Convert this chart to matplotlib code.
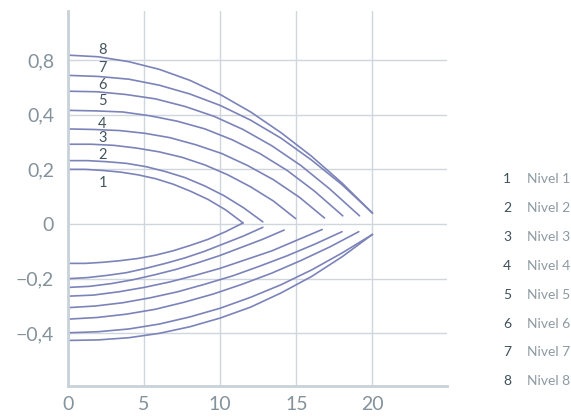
import matplotlib
matplotlib.use("Agg")
import matplotlib.pyplot as plt

plt.rcParams['font.family'] = ['Lato', 'DejaVu Sans']

# upper branches (axis units: one grid step per unit)
up_x = [
    [0, 1.15, 2.3, 3.45, 4.6, 5.75, 6.9, 8.05, 9.2, 10.35, 11.5],
    [0, 1.28, 2.56, 3.84, 5.12, 6.4, 7.68, 8.96, 10.24, 11.52, 12.8],
    [0, 1.5, 3.0, 4.5, 6.0, 7.5, 9.0, 10.5, 12.0, 13.5, 14.95],
    [0, 1.7, 3.4, 5.05, 6.7, 8.4, 10.1, 11.8, 13.5, 15.2, 16.85],
    [0, 1.8, 3.6, 5.4, 7.2, 9.0, 10.8, 12.6, 14.4, 16.2, 18.05],
    [0, 1.9, 3.8, 5.75, 7.7, 9.6, 11.5, 13.4, 15.3, 17.2, 19.15],
    [0, 2, 4, 6, 8, 10, 12, 14, 16, 18, 20],
    [0, 2, 4, 6, 8, 10, 12, 14, 16, 18, 20],
]
up_y = [
    [1.00, 1.00, 0.98, 0.95, 0.90, 0.83, 0.73, 0.60, 0.45, 0.26, 0.02],
    [1.16, 1.16, 1.14, 1.11, 1.05, 0.96, 0.85, 0.70, 0.52, 0.30, 0.04],
    [1.46, 1.46, 1.44, 1.39, 1.32, 1.22, 1.08, 0.90, 0.68, 0.42, 0.10],
    [1.74, 1.73, 1.71, 1.66, 1.58, 1.45, 1.29, 1.07, 0.81, 0.49, 0.11],
    [2.08, 2.07, 2.05, 1.98, 1.88, 1.74, 1.54, 1.29, 0.98, 0.60, 0.15],
    [2.43, 2.42, 2.37, 2.29, 2.15, 1.97, 1.73, 1.43, 1.07, 0.64, 0.15],
    [2.72, 2.70, 2.65, 2.54, 2.38, 2.17, 1.90, 1.57, 1.17, 0.72, 0.20],
    [3.09, 3.06, 2.97, 2.83, 2.63, 2.37, 2.05, 1.67, 1.24, 0.75, 0.20],
]

# lower branches
low_x = [
    [0, 1.15, 2.3, 3.45, 4.6, 5.75, 6.9, 8.05, 9.2, 10.35, 11.5],
    [0, 1.28, 2.56, 3.84, 5.12, 6.4, 7.68, 8.96, 10.24, 11.52, 12.8],
    [0, 1.42, 2.84, 4.26, 5.68, 7.1, 8.52, 9.94, 11.36, 12.78, 14.2],
    [0, 1.67, 3.34, 5.0, 6.68, 8.35, 10.0, 11.7, 13.4, 15.0, 16.7],
    [0, 1.8, 3.6, 5.4, 7.2, 9.0, 10.8, 12.6, 14.4, 16.2, 18.0],
    [0, 1.91, 3.82, 5.73, 7.64, 9.55, 11.46, 13.37, 15.28, 17.19, 19.1],
    [0, 2, 4, 6, 8, 10, 12, 14, 16, 18, 20],
    [0, 2, 4, 6, 8, 10, 12, 14, 16, 18, 20],
]
low_y = [
    [-0.72, -0.72, -0.70, -0.67, -0.63, -0.57, -0.49, -0.39, -0.28, -0.14, 0.02],
    [-1.00, -0.98, -0.94, -0.89, -0.81, -0.72, -0.62, -0.50, -0.36, -0.22, -0.06],
    [-1.16, -1.14, -1.09, -1.02, -0.93, -0.83, -0.71, -0.58, -0.43, -0.28, -0.11],
    [-1.32, -1.30, -1.24, -1.16, -1.06, -0.94, -0.81, -0.65, -0.49, -0.30, -0.10],
    [-1.53, -1.50, -1.44, -1.35, -1.24, -1.10, -0.95, -0.77, -0.58, -0.37, -0.14],
    [-1.74, -1.71, -1.65, -1.56, -1.43, -1.28, -1.10, -0.90, -0.67, -0.42, -0.14],
    [-1.99, -1.97, -1.92, -1.83, -1.70, -1.54, -1.34, -1.11, -0.84, -0.53, -0.19],
    [-2.13, -2.12, -2.08, -2.00, -1.88, -1.72, -1.52, -1.26, -0.96, -0.60, -0.19],
]

levels = ['1', '2', '3', '4', '5', '6', '7', '8']
names = ['Nivel 1', 'Nivel 2', 'Nivel 3', 'Nivel 4', 'Nivel 5', 'Nivel 6', 'Nivel 7', 'Nivel 8']
label_x = 2.27
label_y = [0.75, 1.26, 1.57, 1.83, 2.25, 2.55, 2.85, 3.18]

xticks = [0, 5, 10, 15, 20]
yticks = [3, 2, 1, 0, -1, -2]
ytick_labels = ['0,8', '0,4', '0,2', '0', '\u22120,2', '\u22120,4']

line_c = '#7c83b9'
grid_c = '#cfd6dd'
tick_c = '#84929c'

fig = plt.figure(figsize=(5.71, 4.18), dpi=100)
ax = fig.add_axes([0.119, 0.077, 0.664, 0.897])

for xs, ys in zip(up_x, up_y):
    ax.plot(xs, ys, color=line_c, lw=1.2, solid_capstyle='round')
for xs, ys in zip(low_x, low_y):
    ax.plot(xs, ys, color=line_c, lw=1.2, solid_capstyle='round')

for lv, ly in zip(levels, label_y):
    ax.text(label_x, ly, lv, ha='center', va='center', fontsize=10.5,
            color='#44555f')

ax.set_xlim(0, 24.9)
ax.set_ylim(-2.96, 3.9)
ax.set_xticks(xticks)
ax.set_xticklabels([str(t) for t in xticks])
ax.set_yticks(yticks)
ax.set_yticklabels(ytick_labels)
ax.tick_params(length=0, colors=tick_c, labelsize=14)
ax.tick_params(axis='y', pad=10)
ax.tick_params(axis='x', pad=7)

ax.grid(True, color=grid_c, lw=1)
ax.set_axisbelow(True)
for s in ['top', 'right']:
    ax.spines[s].set_visible(False)
for s in ['left', 'bottom']:
    ax.spines[s].set_color('#c9d1d9')
    ax.spines[s].set_linewidth(2)

# legend on the right
for i, (lv, nm) in enumerate(zip(levels, names)):
    yy = 1 - (179 + i * 28.9) / 418
    fig.text(507 / 571, yy, lv, ha='center', va='center', fontsize=10,
             color='#3f505b')
    fig.text(527 / 571, yy, nm, ha='left', va='center', fontsize=10,
             color='#8d9aa2')

fig.savefig('out.png', dpi=100)
